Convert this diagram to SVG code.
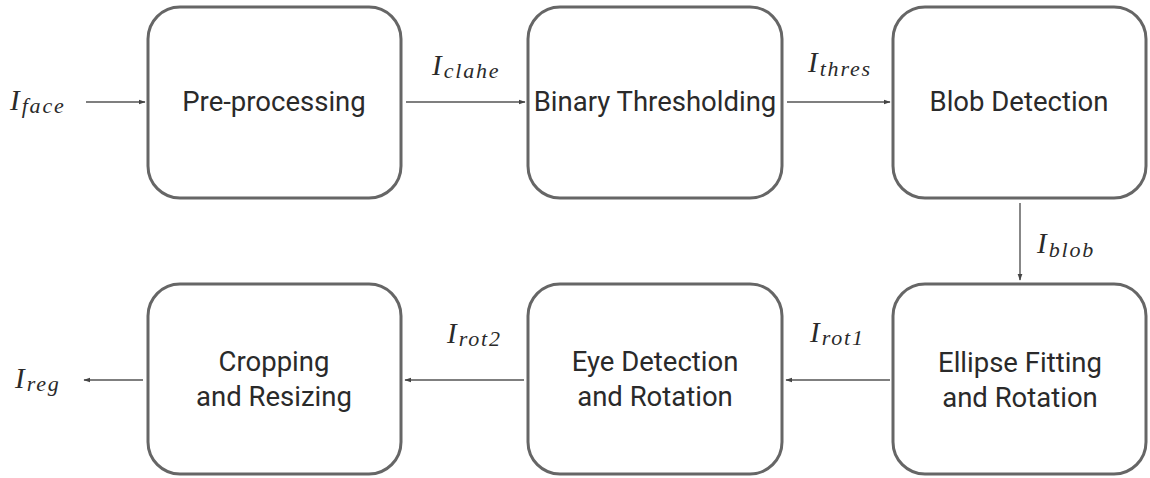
<svg xmlns="http://www.w3.org/2000/svg" width="1150" height="478" viewBox="0 0 1150 478">
<style>
.box{fill:#fff;stroke:#666;stroke-width:3}
.t{font-family:Roboto,"Liberation Sans",sans-serif;font-size:27.5px;fill:#2a2a2a;text-anchor:middle}
.m{font-family:"Liberation Serif",serif;font-style:italic;fill:#2a2a2a}
.I{font-size:29px}
.s{font-size:22px;letter-spacing:1.8px}
.c{stroke:#555;stroke-width:1.4;fill:none;marker-end:url(#ah)}
</style>
<defs>
<marker id="ah" viewBox="0 0 10 10" refX="9" refY="5" markerWidth="7" markerHeight="7" markerUnits="userSpaceOnUse" orient="auto">
<path d="M0,1.5 L10,5 L0,8.5 z" fill="#444"/>
</marker>
</defs>
<rect width="1150" height="478" fill="#fff"/>
<g id="connectors">
<line class="c" x1="86" y1="102" x2="145" y2="102"/>
<line class="c" x1="406" y1="102" x2="525" y2="102"/>
<line class="c" x1="787" y1="102" x2="890" y2="102"/>
<line class="c" x1="1020" y1="203" x2="1020" y2="280"/>
<line class="c" x1="890" y1="380" x2="786" y2="380"/>
<line class="c" x1="524" y1="380" x2="405" y2="380"/>
<line class="c" x1="143" y1="380" x2="84" y2="380"/>
</g>
<g id="labels">
<text class="m" x="10" y="110"><tspan class="I">I</tspan><tspan class="s" dx="2" dy="3">face</tspan></text>
<text class="m" x="432" y="75"><tspan class="I">I</tspan><tspan class="s" dx="2" dy="3">clahe</tspan></text>
<text class="m" x="808" y="72"><tspan class="I">I</tspan><tspan class="s" dx="2" dy="4">thres</tspan></text>
<text class="m" x="1037" y="253"><tspan class="I">I</tspan><tspan class="s" dx="2" dy="4">blob</tspan></text>
<text class="m" x="15" y="388"><tspan class="I">I</tspan><tspan class="s" dx="2" dy="3">reg</tspan></text>
<text class="m" x="447" y="343"><tspan class="I">I</tspan><tspan class="s" dx="2" dy="3">rot2</tspan></text>
<text class="m" x="810" y="342"><tspan class="I">I</tspan><tspan class="s" dx="2" dy="3">rot1</tspan></text>
</g>
<g id="preprocessing">
<rect class="box" x="148" y="7" width="253" height="191" rx="32"/>
<text class="t" x="274" y="111">Pre-processing</text>
</g>
<g id="thresholding">
<rect class="box" x="528" y="7" width="254" height="191" rx="32"/>
<text class="t" x="655" y="111">Binary Thresholding</text>
</g>
<g id="blob">
<rect class="box" x="893" y="7" width="253" height="191" rx="32"/>
<text class="t" x="1019" y="111">Blob Detection</text>
</g>
<g id="ellipse">
<rect class="box" x="893" y="284" width="253" height="190" rx="32"/>
<text class="t" x="1020" y="372">Ellipse Fitting</text>
<text class="t" x="1020" y="407">and Rotation</text>
</g>
<g id="eye">
<rect class="box" x="528" y="284" width="254" height="190" rx="32"/>
<text class="t" x="655" y="371">Eye Detection</text>
<text class="t" x="655" y="406">and Rotation</text>
</g>
<g id="crop">
<rect class="box" x="148" y="284" width="253" height="190" rx="32"/>
<text class="t" x="274" y="371">Cropping</text>
<text class="t" x="274" y="406">and Resizing</text>
</g>
</svg>
